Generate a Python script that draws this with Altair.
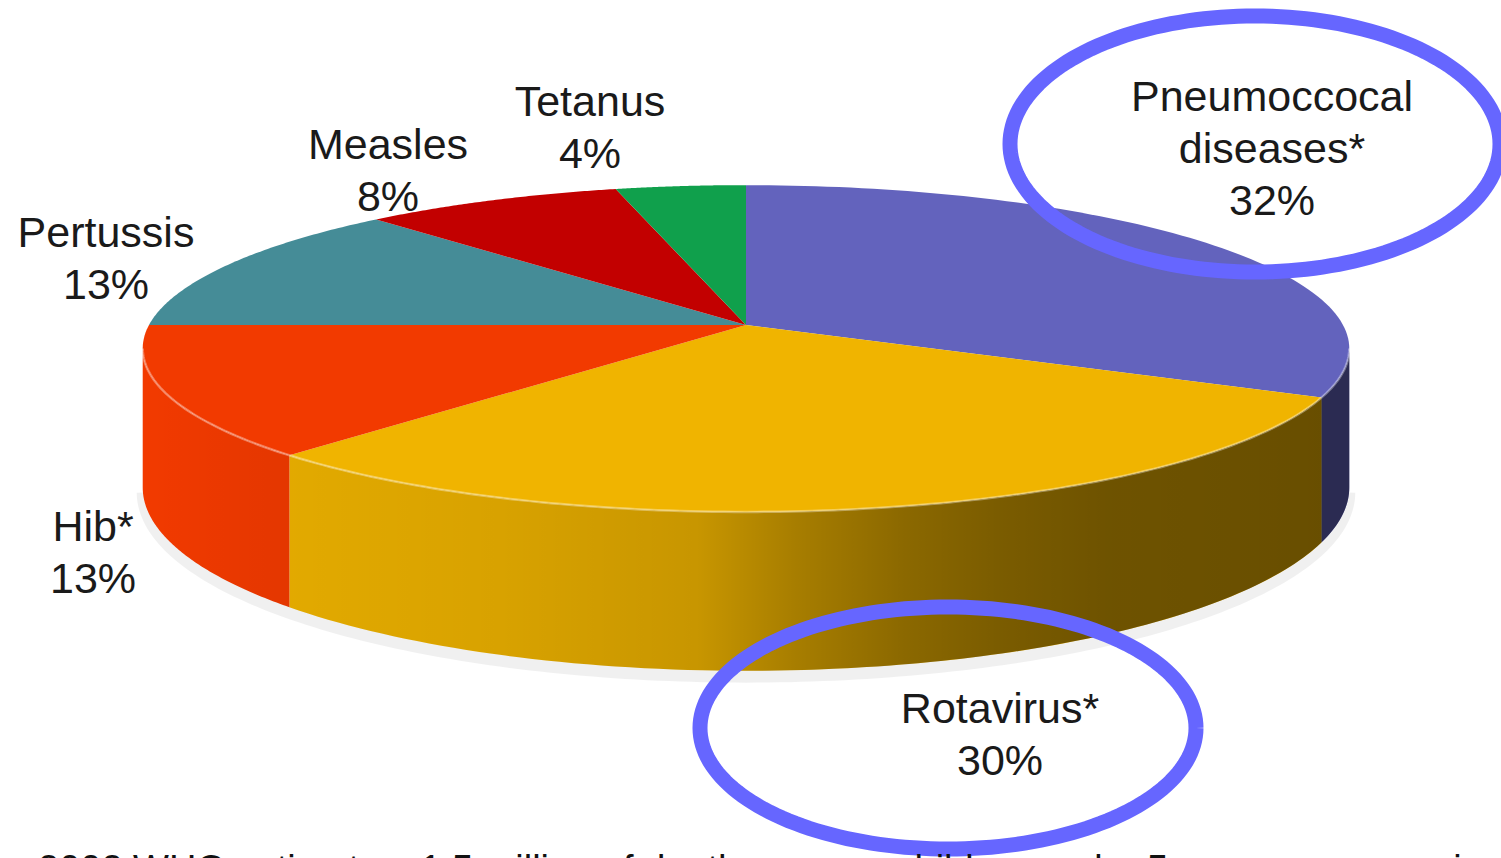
import math
import pandas as pd
import altair as alt

# ---------------- data ----------------
keys = ["Pneumococcal", "Rotavirus", "Hib", "Pertussis", "Measles", "Tetanus"]
names = ["Pneumoccocal\ndiseases*", "Rotavirus*", "Hib*", "Pertussis", "Measles", "Tetanus"]
shares = [32, 30, 13, 13, 8, 4]
slice_colors = ["#6363bd", "#f0b400", "#f23a00", "#458c97", "#c20000", "#10a04c"]
footnote = ["2002 WHO estimates: 1.5 million of deaths among children under 5 years were vaccine-preventable"]

# ---------------- layout / style ----------------
W, H = 1501, 858
CX, CY = 746, 325          # pie apex on screen
RX, RY = 597, 160          # pie radii
PERSP = 0.144              # perspective strength
DEPTH = 136                # thickness of the pie
STEPS = 90
FONT = "Liberation Sans"
label_x = [1272, 1000, 93, 106, 388, 590]
label_top = [77, 689, 507, 213, 125, 82]
ring_cx = [1255, 948]
ring_cy = [144, 728]
ring_rx = [245, 248]
ring_ry = [128, 121]
RING_COLOR = "#6666ff"


def proj(theta_deg, r=1.0, drop=0.0):
    t = math.radians(theta_deg)
    w = -math.cos(t) * r
    s = 1.0 / (1.0 - PERSP * w)
    return CX + RX * r * math.sin(t) * s, CY + (RY * w + drop) * s


total = float(sum(shares))
starts, ends = [], []
acc = 0.0
for v in shares:
    starts.append(acc / total * 360.0)
    acc += v
    ends.append(acc / total * 360.0)

th_l = math.degrees(math.acos(-PERSP))
th_r = 360.0 - th_l

# top faces
top_rows = []
for k, a, b in zip(keys, starts, ends):
    x, y = proj(0, 0.0)
    top_rows.append({"key": k, "i": 0, "x": x, "y": y})
    for j in range(STEPS + 1):
        x, y = proj(a + (b - a) * j / STEPS)
        top_rows.append({"key": k, "i": j + 1, "x": x, "y": y})
top_df = pd.DataFrame(top_rows)

# side walls (front part only)
side_rows = []
for k, a, b in zip(keys, starts, ends):
    lo, hi = max(a, th_l), min(b, th_r)
    if hi <= lo:
        continue
    n = 0
    for j in range(STEPS + 1):
        x, y = proj(lo + (hi - lo) * j / STEPS)
        side_rows.append({"key": k, "i": n, "x": x, "y": y}); n += 1
    for j in range(STEPS + 1):
        x, y = proj(hi - (hi - lo) * j / STEPS, 1.0, DEPTH)
        side_rows.append({"key": k, "i": n, "x": x, "y": y}); n += 1
side_df = pd.DataFrame(side_rows)

# whole band for shading
band_rows = []
n = 0
for j in range(181):
    x, y = proj(th_l + (th_r - th_l) * j / 180)
    band_rows.append({"i": n, "x": x, "y": y}); n += 1
for j in range(181):
    x, y = proj(th_r - (th_r - th_l) * j / 180, 1.0, DEPTH)
    band_rows.append({"i": n, "x": x, "y": y}); n += 1
band_df = pd.DataFrame(band_rows)

rim_df = pd.DataFrame([{"i": j, "x": proj(th_l + (th_r - th_l) * j / 180)[0],
                        "y": proj(th_l + (th_r - th_l) * j / 180)[1]} for j in range(181)])
shadow_df = pd.DataFrame([{"i": j, "x": proj(th_l + (th_r - th_l) * j / 180, 1.0, DEPTH + 5)[0],
                           "y": proj(th_l + (th_r - th_l) * j / 180, 1.0, DEPTH + 5)[1]} for j in range(181)])

label_df = pd.DataFrame({
    "text": [f"{nm}\n{v}%" for nm, v in zip(names, shares)],
    "x": label_x,
    "y": label_top,
})

ring_rows = []
for r, (cx, cy, rx, ry) in enumerate(zip(ring_cx, ring_cy, ring_rx, ring_ry)):
    for j in range(181):
        t = 2 * math.pi * j / 180
        ring_rows.append({"ring": r, "i": j, "x": cx + rx * math.cos(t), "y": cy + ry * math.sin(t)})
ring_df = pd.DataFrame(ring_rows)

# footnote: only the top of its first line shows at the bottom edge, as in the source
foot_df = pd.DataFrame({"text": footnote, "x": [38], "y": [882]})

# ---------------- encodings ----------------
X = alt.X("x:Q", scale=alt.Scale(domain=[0, W], nice=False, zero=False), axis=None)
Y = alt.Y("y:Q", scale=alt.Scale(domain=[0, H], reverse=True, nice=False, zero=False), axis=None)
COLOR = alt.Color("key:N", scale=alt.Scale(domain=keys, range=slice_colors), legend=None)
ORDER = alt.Order("i:Q")

shadow = alt.Chart(shadow_df).mark_line(stroke="#000000", strokeOpacity=0.06, strokeWidth=12).encode(
    x=X, y=Y, order=ORDER)

sides = alt.Chart(side_df).mark_line(filled=True, strokeWidth=0).encode(
    x=X, y=Y, color=COLOR, order=ORDER)

shade_grad = alt.Gradient(
    gradient="linear", x1=0, y1=0, x2=1, y2=0,
    stops=[
        alt.GradientStop(color="rgba(0,0,0,0)", offset=0),
        alt.GradientStop(color="rgba(0,0,0,0.06)", offset=0.12),
        alt.GradientStop(color="rgba(0,0,0,0.10)", offset=0.30),
        alt.GradientStop(color="rgba(0,0,0,0.17)", offset=0.46),
        alt.GradientStop(color="rgba(0,0,0,0.30)", offset=0.54),
        alt.GradientStop(color="rgba(0,0,0,0.42)", offset=0.63),
        alt.GradientStop(color="rgba(0,0,0,0.49)", offset=0.71),
        alt.GradientStop(color="rgba(0,0,0,0.54)", offset=0.80),
        alt.GradientStop(color="rgba(0,0,0,0.57)", offset=1.0),
    ],
)
shade = alt.Chart(band_df).mark_line(filled=True, fill=shade_grad, strokeWidth=0).encode(
    x=X, y=Y, order=ORDER)

tops = alt.Chart(top_df).mark_line(filled=True, strokeWidth=0).encode(
    x=X, y=Y, color=COLOR, order=ORDER)

rim = alt.Chart(rim_df).mark_line(stroke="#ffffff", strokeOpacity=0.35, strokeWidth=2.5).encode(
    x=X, y=Y, order=ORDER)

labels = alt.Chart(label_df).mark_text(
    align="center", baseline="top", font=FONT, fontSize=43, lineHeight=52,
    lineBreak="\n", color="#1a1a1a").encode(x=X, y=Y, text="text:N")

rings = alt.Chart(ring_df).mark_line(stroke=RING_COLOR, strokeWidth=15).encode(
    x=X, y=Y, detail="ring:N", order=ORDER)

foot = alt.Chart(foot_df).mark_text(
    align="left", baseline="alphabetic", font=FONT, fontSize=38, color="#111111").encode(
    x=X, y=Y, text="text:N")

chart = alt.layer(shadow, sides, shade, tops, rim, labels, rings, foot).properties(
    width=W, height=H, padding=0, autosize=alt.AutoSizeParams(type="none")
).configure_view(stroke=None)

chart.save("out.html", embed_options={"renderer": "svg", "actions": False})
